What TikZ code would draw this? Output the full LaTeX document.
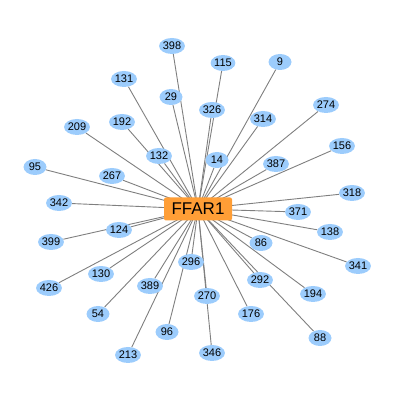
\documentclass[tikz,border=0pt]{standalone}
\usepackage{fontspec}
\setmainfont{Liberation Sans}
\usetikzlibrary{shapes.geometric,backgrounds}
\definecolor{leafblue}{HTML}{9CCCFC}
\definecolor{huborange}{HTML}{FF9E36}
\definecolor{edgegray}{HTML}{7F7F7F}

\begin{document}
\begin{tikzpicture}[x=1pt,y=-1pt,
    leaf/.style={ellipse,fill=leafblue,minimum width=23pt,minimum height=16pt,inner sep=0pt,font=\fontsize{11}{12}\selectfont},
    hubnode/.style={rectangle,rounded corners=2pt,fill=huborange,minimum width=68pt,minimum height=23pt,inner sep=0pt,font=\fontsize{17}{18}\selectfont},
    edge/.style={edgegray,line width=0.9pt}]

    % Frame
    \useasboundingbox (0,0) rectangle (405,403);

    % Hub
    \node[hubnode] (hub) at (198,209) {FFAR1};

    % Interaction partners
    \foreach \name/\px/\py in {398/172/46, 131/124/79, 29/171/97, 192/122/122, 209/77/127,
        132/159/156, 95/35/167, 267/112/176, 342/59/203, 115/223/63, 9/280/62,
        326/212/110, 314/263/119, 274/326/105, 156/342/146, 14/217/160, 387/276/164,
        318/352/193, 124/119/230, 399/51/242, 296/191/262, 130/101/274, 426/49/288,
        389/150/286, 54/98/314, 96/167/332, 213/128/355, 371/298/212, 138/330/232,
        86/261/243, 341/358/266, 292/260/280, 194/313/294, 270/207/296, 176/251/314,
        88/320/338, 346/212/353}
        \node[leaf] (n\name) at (\px,\py) {\name};

    % Edges
    \begin{scope}[on background layer]
        \foreach \name in {398,131,29,192,209,132,95,267,342,115,9,326,314,274,156,14,387,
            318,124,399,296,130,426,389,54,96,213,371,138,86,341,292,194,270,176,88,346}
            \draw[edge] (hub.center) -- (n\name);
    \end{scope}

\end{tikzpicture}
\end{document}
